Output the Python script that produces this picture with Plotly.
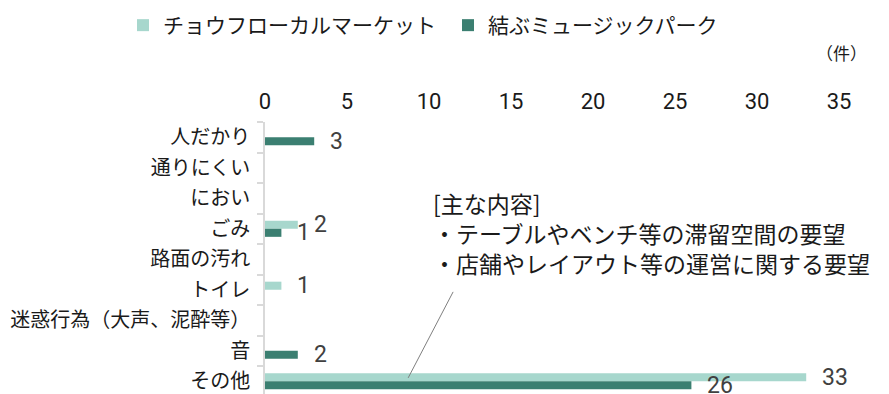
import plotly.graph_objects as go

# ---- data ----
categories = ["人だかり", "通りにくい", "におい", "ごみ", "路面の汚れ", "トイレ",
              "迷惑行為（大声、泥酔等）", "音", "その他"]
chofu = [0, 0, 0, 2, 0, 1, 0, 0, 33]
musubu = [3, 0, 0, 1, 0, 0, 0, 2, 26]
series_names = ["チョウフローカルマーケット", "結ぶミュージックパーク"]
x_ticks = [0, 5, 10, 15, 20, 25, 30, 35]
note_lines = ["[主な内容]", "・テーブルやベンチ等の滞留空間の要望", "・店舗やレイアウト等の運営に関する要望"]
unit_label = "（件）"

# ---- style ----
W, H = 889, 394
ML, MR, MT, MB = 265, 50, 122, 0
LIGHT = "#a7d7cd"
DARK = "#3b7f71"
JP = "Noto Sans CJK JP"
NUM = "Roboto, sans-serif"

pw = W - ML - MR
ph = H - MT - MB

fig = go.Figure()
fig.add_trace(go.Bar(y=categories, x=chofu, orientation="h", name=series_names[0],
                     marker=dict(color=LIGHT, line=dict(width=0))))
fig.add_trace(go.Bar(y=categories, x=musubu, orientation="h", name=series_names[1],
                     marker=dict(color=DARK, line=dict(width=0))))

# data labels (non-zero only), placed via axis scales
for vals, shift in ((chofu, 4), (musubu, -4)):
    for c, v in zip(categories, vals):
        if v:
            fig.add_annotation(x=v, y=c, xref="x", yref="y", text=str(v), showarrow=False,
                               xanchor="left", yanchor="middle", xshift=14, yshift=shift,
                               font=dict(family=NUM, size=23, color="#404040"))

band_px = 30.5
bottom = -0.5 + ph / band_px

fig.update_layout(
    width=W, height=H,
    margin=dict(l=ML, r=MR, t=MT, b=MB, pad=0),
    paper_bgcolor="white", plot_bgcolor="white",
    barmode="group", bargap=0.47, bargroupgap=0,
    font=dict(family=JP, color="#1a1a1a"),
    showlegend=True,
    legend=dict(orientation="h", xref="paper", yref="paper",
                x=(123 - ML) / pw, y=1 + (MT - 5) / ph, xanchor="left", yanchor="top",
                font=dict(family=JP, size=21, color="#1a1a1a"),
                entrywidth=280, entrywidthmode="pixels",
                traceorder="normal", bgcolor="rgba(0,0,0,0)"),
    xaxis=dict(range=[0, 35], side="top", tickvals=x_ticks, ticktext=[str(t) for t in x_ticks],
               showgrid=False, zeroline=False, showline=False, ticks="",
               tickfont=dict(family=NUM, size=22, color="#1a1a1a"), ticklabelstandoff=8,
               fixedrange=True),
    yaxis=dict(categoryorder="array", categoryarray=categories, range=[bottom, -0.5],
               showgrid=False, zeroline=False, showline=True, linecolor="#d9d9d9", linewidth=1.5,
               ticks="outside", tickson="boundaries", ticklen=6, tickcolor="#d9d9d9", tickwidth=1.5,
               tickfont=dict(family=JP, size=20, color="#1a1a1a"), ticklabelstandoff=9),
)

# unit label
fig.add_annotation(xref="paper", yref="paper", x=1 + 2.5 / pw, y=1 + (MT - 52) / ph,
                   text=unit_label, showarrow=False, xanchor="center", yanchor="middle",
                   font=dict(family=JP, size=17, color="#1a1a1a"))

# note text block (three lines)
fig.add_annotation(xref="paper", yref="paper", x=(431 - ML) / pw, y=(H - 233) / ph,
                   text="<br>".join(note_lines), showarrow=False, align="left",
                   xanchor="left", yanchor="middle",
                   font=dict(family=JP, size=23, color="#1a1a1a"))

# callout line toward "その他"
fig.add_shape(type="line", xref="x", yref="y", x0=8.73, y0=7.89, x1=11.47, y1=5.07,
              line=dict(color="#7f7f7f", width=1))

fig.write_html("out.html")
